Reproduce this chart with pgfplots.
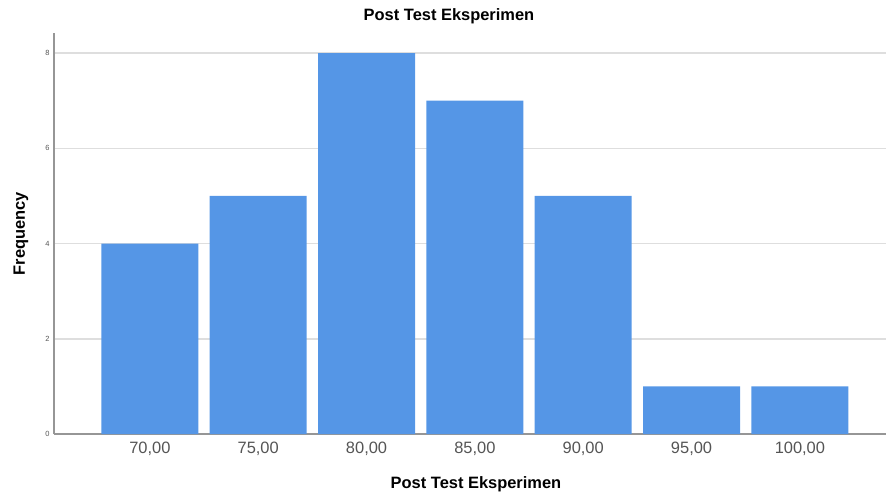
\documentclass[border=0pt]{standalone}
\usepackage{pgfplots}
\pgfplotsset{compat=1.18}
\usepackage{fontspec}
\setmainfont{Liberation Sans}
\definecolor{barblue}{RGB}{85,150,230}
\definecolor{gridgray}{RGB}{222,222,222}
\definecolor{axisgray}{RGB}{150,150,150}
\definecolor{ticktext}{RGB}{85,85,85}
\begin{document}
\begin{tikzpicture}
\path[use as bounding box] (-54bp,-61bp) rectangle (832bp,434bp);
\begin{axis}[
  scale only axis,
  width=832bp, height=401bp,
  xmin=-0.885, xmax=6.795,
  ymin=0, ymax=8.42,
  axis x line=bottom, axis y line=left,
  axis line style={axisgray, line width=1.2bp, -},
  xtick={0,1,2,3,4,5,6},
  xticklabels={{70,00},{75,00},{80,00},{85,00},{90,00},{95,00},{100,00}},
  ytick={0,2,4,6,8},
  ymajorgrids,
  grid style={gridgray, line width=1.5bp},
  major tick length=0pt,
  /pgf/number format/assume math mode=true,
  xticklabel style={font=\fontsize{16.5}{18}\selectfont, text=ticktext, anchor=north, yshift=-5bp},
  yticklabel style={font=\fontsize{7.5}{9}\selectfont, text=ticktext, xshift=-1bp},
  title={Post Test Eksperimen},
  title style={font=\bfseries\fontsize{16.5}{19}\selectfont, at={(0.5,1)}, anchor=base, yshift=7bp, xshift=-21bp},
  xlabel={Post Test Eksperimen},
  xlabel style={font=\bfseries\fontsize{16.5}{19}\selectfont, at={(0.5,0)}, anchor=base, yshift=-54bp, xshift=6bp},
  ylabel={Frequency},
  ylabel style={font=\bfseries\fontsize{16.5}{19}\selectfont, at={(0,0.5)}, anchor=base, yshift=29bp},
  clip=false,
]
\addplot[ybar, bar width=97bp, fill=barblue, draw=none] coordinates {
  (0,4) (1,5) (2,8) (3,7) (4,5) (5,1) (6,1)
};
\end{axis}
\end{tikzpicture}
\end{document}
